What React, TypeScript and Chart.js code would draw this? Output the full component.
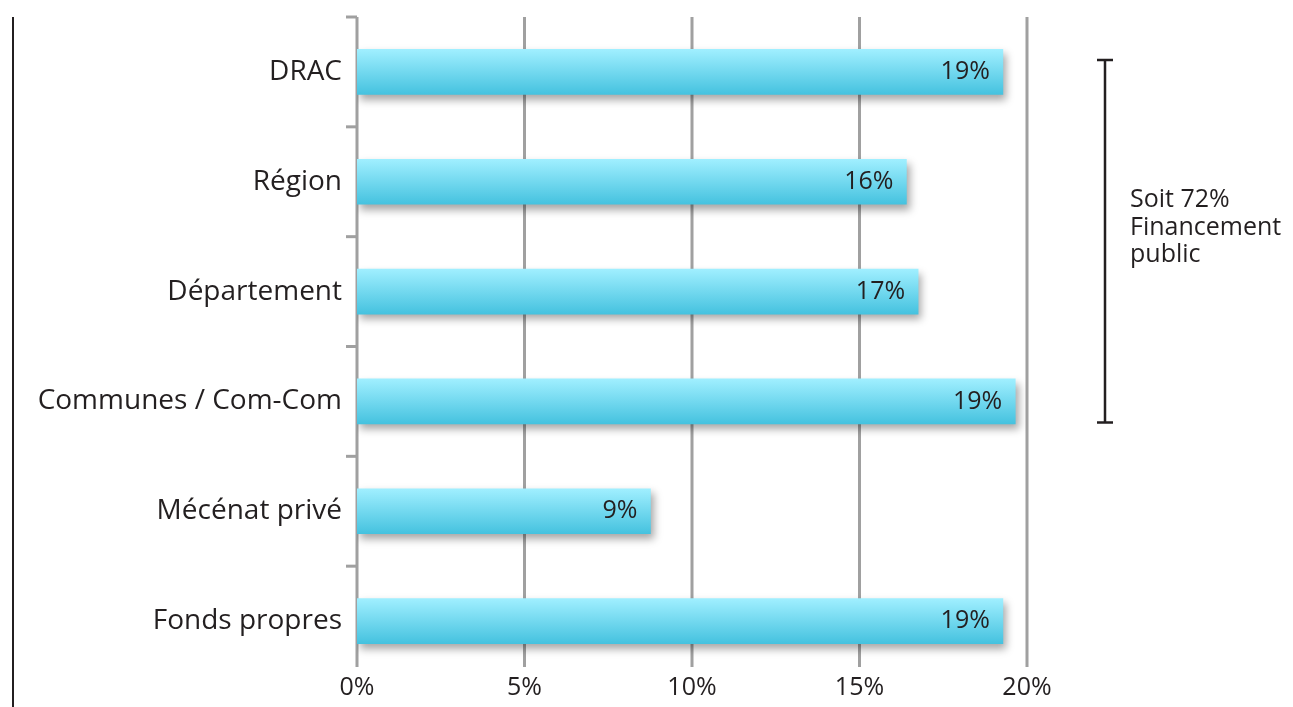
import React, { useEffect, useRef } from "react";
import { Chart, registerables } from "chart.js";

Chart.register(...registerables);

const categories = ["DRAC", "Région", "Département", "Communes / Com-Com", "Mécénat privé", "Fonds propres"];
const values = [19.28, 16.4, 16.75, 19.65, 8.76, 19.28];
const valueLabels = ["19%", "16%", "17%", "19%", "9%", "19%"];
const xTickValues = [0, 5, 10, 15, 20];
const bracketFirst = 0;
const bracketLast = 3;
const bracketText = ["Soit 72%", "Financement", "public"];

const FONT = "'Open Sans', sans-serif";
const TEXT = "#231f20";
const GRID = "#a0a0a0";

export default function App() {
  const ref = useRef<HTMLCanvasElement | null>(null);

  useEffect(() => {
    document.body.style.margin = "0";
    const canvas = ref.current;
    if (!canvas) return;

    const shadowPlugin = {
      id: "barShadow",
      beforeDatasetsDraw(chart: any) {
        const { ctx, chartArea, scales } = chart;
        const x = scales.x;
        const y = scales.y;
        const axisBottom = chartArea.bottom - 9;
        ctx.save();
        ctx.strokeStyle = GRID;
        ctx.lineWidth = 3;
        xTickValues.forEach((t) => {
          const px = x.getPixelForValue(t);
          ctx.beginPath();
          ctx.moveTo(px, chartArea.top);
          ctx.lineTo(px, axisBottom);
          ctx.stroke();
        });
        const half = (y.getPixelForValue(1) - y.getPixelForValue(0)) / 2;
        for (let i = 0; i < categories.length; i++) {
          const py = y.getPixelForValue(i) - half;
          ctx.beginPath();
          ctx.moveTo(chartArea.left - 11, py);
          ctx.lineTo(chartArea.left, py);
          ctx.stroke();
        }
        ctx.restore();
        ctx.save();
        ctx.strokeStyle = TEXT;
        ctx.lineWidth = 2;
        ctx.beginPath();
        ctx.moveTo(13, chartArea.top);
        ctx.lineTo(13, chart.height);
        ctx.stroke();
        ctx.restore();

        ctx.save();
        ctx.shadowColor = "rgba(0,0,0,0.35)";
        ctx.shadowBlur = 8;
        ctx.shadowOffsetX = 3;
        ctx.shadowOffsetY = 5;
      },
      afterDatasetsDraw(chart: any) {
        const { ctx, chartArea, scales } = chart;
        ctx.restore();
        const meta = chart.getDatasetMeta(0);
        ctx.save();
        ctx.fillStyle = TEXT;
        ctx.font = `25px ${FONT}`;
        ctx.textAlign = "right";
        ctx.textBaseline = "middle";
        meta.data.forEach((bar: any, i: number) => {
          ctx.fillText(valueLabels[i], bar.x - 13, bar.y);
        });
        ctx.restore();

        const y = scales.y;
        const top = y.getPixelForValue(bracketFirst) - 12;
        const bottom = y.getPixelForValue(bracketLast) + 21;
        const bx = chartArea.right + 78;
        ctx.save();
        ctx.strokeStyle = TEXT;
        ctx.lineWidth = 2.5;
        ctx.beginPath();
        ctx.moveTo(bx, top);
        ctx.lineTo(bx, bottom);
        ctx.moveTo(bx - 8, top);
        ctx.lineTo(bx + 8, top);
        ctx.moveTo(bx - 8, bottom);
        ctx.lineTo(bx + 8, bottom);
        ctx.stroke();
        ctx.fillStyle = TEXT;
        ctx.font = `25px ${FONT}`;
        ctx.textAlign = "left";
        ctx.textBaseline = "alphabetic";
        const mid = (top + bottom) / 2;
        bracketText.forEach((line, i) => {
          ctx.fillText(line, bx + 25, mid - 34 + i * 27.5);
        });
        ctx.restore();
      },
    };

    const chart = new Chart(canvas, {
      type: "bar",
      data: {
        labels: categories,
        datasets: [
          {
            data: values,
            barThickness: 45,
            borderWidth: 0,
            backgroundColor: (c: any) => {
              const ch = c.chart;
              const ys = ch.scales && ch.scales.y;
              if (!ys || c.dataIndex === undefined) return "#6fd8ef";
              const cy = ys.getPixelForValue(c.dataIndex);
              if (!isFinite(cy)) return "#6fd8ef";
              const g = ch.ctx.createLinearGradient(0, cy - 22.5, 0, cy + 22.5);
              g.addColorStop(0, "#a0efff");
              g.addColorStop(1, "#45c2df");
              return g;
            },
          },
        ],
      },
      options: {
        indexAxis: "y",
        responsive: false,
        animation: false,
        layout: { padding: { top: 17, right: 266, left: 0, bottom: 0 } },
        plugins: { legend: { display: false }, tooltip: { enabled: false } },
        scales: {
          x: {
            min: 0,
            max: 20,
            afterFit: (s: any) => {
              s.height = 31;
            },
            afterBuildTicks: (s: any) => {
              s.ticks = xTickValues.map((v) => ({ value: v }));
            },
            grid: { display: false, drawTicks: false },
            border: { display: false },
            ticks: {
              padding: -3,
              color: TEXT,
              font: { family: FONT, size: 25 },
              callback: (v: any) => `${v}%`,
            },
          },
          y: {
            afterFit: (s: any) => {
              s.width = 357;
              s.paddingTop = 0;
              s.paddingBottom = 0;
            },
            grid: { display: false, drawTicks: false },
            border: { display: false },
            ticks: {
              padding: 15,
              color: TEXT,
              font: { family: FONT, size: 28 },
            },
          },
        },
      },
      plugins: [shadowPlugin],
    } as any);

    return () => chart.destroy();
  }, []);

  return (
    <div style={{ width: 1293, height: 707, background: "#fff" }}>
      <canvas ref={ref} width={1293} height={707} style={{ display: "block" }} />
    </div>
  );
}
